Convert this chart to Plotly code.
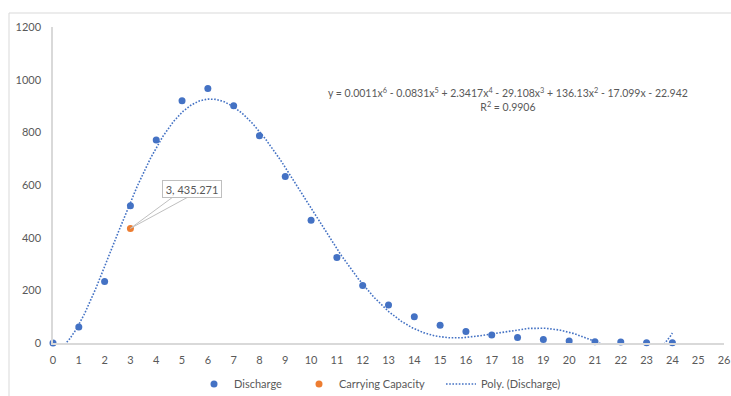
import numpy as np
import plotly.graph_objects as go

# ---- data ----
x_vals = list(range(0, 25))
discharge = [0, 61, 234, 521, 771, 920, 966, 901, 787, 632, 466, 325, 218, 144,
             100, 67, 44, 30, 21, 13, 8, 5, 4, 1, 1]
cap_x = [3]
cap_y = [435.271]
x_ticks = list(range(0, 27))
y_ticks = [0, 200, 400, 600, 800, 1000, 1200]
equation_text = ("y = 0.0011x<sup>6</sup> - 0.0831x<sup>5</sup> + 2.3417x<sup>4</sup> - 29.108x<sup>3</sup>"
                 " + 136.13x<sup>2</sup> - 17.099x - 22.942<br>R<sup>2</sup> = 0.9906")
cap_label = "3, 435.271"

# ---- polynomial trendline (degree 6 least squares, as the spreadsheet does) ----
coef = np.polyfit(x_vals, discharge, 6)
xs = np.linspace(0, 24, 600)
ys = np.polyval(coef, xs)

BLUE = "#4472C4"
ORANGE = "#ED7D31"
GREY_TXT = "#595959"
AXIS = "#D9D9D9"
FONT = "Lato"

# plot area geometry (pixels)
L, R, T, B = 53, 7, 27, 53
W, H = 731, 396
PW, PH = W - L - R, H - T - B


def px_x(p):
    return (p - L) / PW


def px_y(p):
    return (H - B - p) / PH


fig = go.Figure()
fig.add_trace(go.Scatter(x=x_vals, y=discharge, mode="markers", name="Discharge",
                         marker=dict(color=BLUE, size=7), cliponaxis=False, legend="legend"))
fig.add_trace(go.Scatter(x=cap_x, y=cap_y, mode="markers", name="Carrying Capacity",
                         marker=dict(color=ORANGE, size=7), cliponaxis=False, legend="legend2"))
fig.add_trace(go.Scatter(x=xs, y=ys, mode="lines", name="Poly. (Discharge)",
                         line=dict(color=BLUE, width=1.6, dash="1.6px,1.6px"), legend="legend3"))

# callout wedge from the orange point to the label box
fig.add_shape(type="path", xref="x", yref="y", xsizemode="pixel", ysizemode="pixel",
              xanchor=cap_x[0], yanchor=cap_y[0],
              path="M 0,0 L 42,31 L 57,31 Z",
              line=dict(color="#BFBFBF", width=1), fillcolor="white", layer="above")
fig.add_annotation(x=cap_x[0], y=cap_y[0], xref="x", yref="y", text=cap_label,
                   showarrow=False, xshift=62, yshift=39, xanchor="center", yanchor="middle",
                   width=56, height=14,
                   font=dict(family=FONT, size=11, color=GREY_TXT),
                   bgcolor="white", bordercolor="#BFBFBF", borderwidth=1, borderpad=1)

# equation
fig.add_annotation(x=px_x(508), y=px_y(99), xref="paper", yref="paper",
                   xanchor="center", yanchor="middle",
                   text=equation_text, showarrow=False, align="center",
                   font=dict(family=FONT, size=10.5, color=GREY_TXT))

# outer chart border
fig.add_shape(type="rect", xref="paper", yref="paper",
              x0=px_x(9), x1=px_x(745), y0=px_y(420), y1=px_y(13),
              line=dict(color=AXIS, width=1), layer="below")

leg_common = dict(orientation="h", yanchor="middle", xanchor="left", y=px_y(384),
                  font=dict(family=FONT, size=11, color=GREY_TXT), bgcolor="rgba(0,0,0,0)")

fig.update_layout(
    width=W, height=H,
    margin=dict(l=L, r=R, t=T, b=B, autoexpand=False),
    paper_bgcolor="white", plot_bgcolor="white",
    font=dict(family=FONT, size=11, color=GREY_TXT),
    showlegend=True,
    legend=dict(x=px_x(194), **leg_common),
    legend2=dict(x=px_x(299), **leg_common),
    legend3=dict(x=px_x(441), **leg_common),
    xaxis=dict(range=[0, 26], tickvals=x_ticks, showgrid=False, zeroline=False,
               showline=True, linecolor=AXIS, linewidth=1.5, ticks="", ticklabelstandoff=6,
               automargin=False, tickfont=dict(family=FONT, size=11, color=GREY_TXT)),
    yaxis=dict(range=[0, 1200], tickvals=y_ticks, showgrid=False, zeroline=False,
               showline=True, linecolor=AXIS, linewidth=1.5, ticks="", ticklabelstandoff=8,
               automargin=False, tickfont=dict(family=FONT, size=11, color=GREY_TXT)),
)

fig.write_html("out.html", config={"displayModeBar": False},
               post_script="document.body.style.margin='0';")
